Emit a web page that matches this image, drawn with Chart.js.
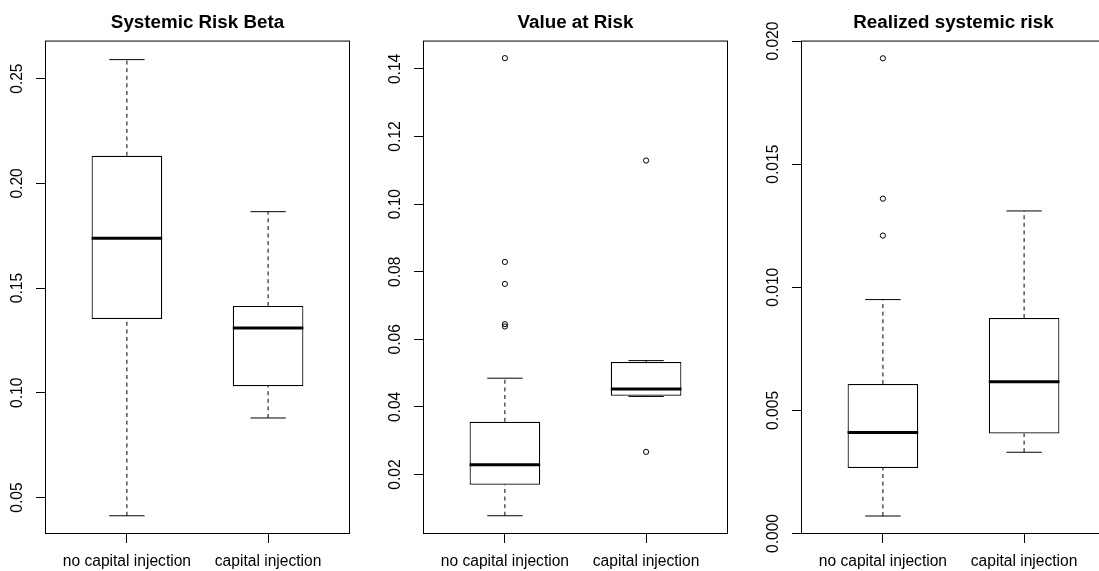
<!DOCTYPE html>
<html>
<head>
<meta charset="utf-8">
<script src="https://cdn.jsdelivr.net/npm/chart.js@4.4.1/dist/chart.umd.min.js"></script>
<style>
html, body { margin: 0; padding: 0; background: #fff; overflow: hidden; width: 1099px; height: 571px; }
.panel { position: absolute; top: 0; }
</style>
</head>
<body>
<div class="panel" style="left:0px"><canvas id="beta" width="366" height="571"></canvas></div>
<div class="panel" style="left:378px"><canvas id="var" width="366" height="571"></canvas></div>
<div class="panel" style="left:756px"><canvas id="srisk" width="366" height="571"></canvas></div>
<script>
// groups on the x axis
const groups = ['no capital injection', 'capital injection'];

// box summaries per group: [lower whisker, Q1, median, Q3, upper whisker]
const betaStats = [[0.0413, 0.1353, 0.1738, 0.2132, 0.2591], [0.0880, 0.1032, 0.1310, 0.1415, 0.1865]];
const betaOutliers = [[], []];
const betaTicks = ['0.05', '0.10', '0.15', '0.20', '0.25'];
const betaRange = [0.0326, 0.2682];

const varStats = [[0.0078, 0.0170, 0.0229, 0.0356, 0.0485], [0.0431, 0.0433, 0.0453, 0.0533, 0.0537]];
const varOutliers = [[0.1432, 0.0829, 0.0764, 0.0645, 0.0638], [0.1129, 0.0267]];
const varTicks = ['0.02', '0.04', '0.06', '0.08', '0.10', '0.12', '0.14'];
const varRange = [0.0024, 0.1484];

const sriskStats = [[0.00071, 0.00266, 0.00410, 0.00607, 0.00950], [0.00330, 0.00406, 0.00616, 0.00875, 0.01310]];
const sriskOutliers = [[0.0193, 0.0136, 0.0121], []];
const sriskTicks = ['0.000', '0.005', '0.010', '0.015', '0.020'];
const sriskRange = [-0.00002, 0.02002];

const xRange = [0.42, 2.58];

const FONT = "'Liberation Sans', Arial, Helvetica, sans-serif";
const BOX_HALF = 0.25;
const CAP_HALF = 0.125;

function boxData(stats) {
    return stats.map((s, i) => ({ x: i + 1, y: [s[1], s[3]] }));
}

function medianData(stats) {
    const d = [];
    stats.forEach((s, i) => {
        const c = i + 1;
        d.push({ x: c - BOX_HALF, y: s[2] }, { x: c + BOX_HALF, y: s[2] }, { x: c, y: null });
    });
    return d;
}

function whiskerData(stats) {
    const d = [];
    stats.forEach((s, i) => {
        const c = i + 1;
        d.push({ x: c, y: s[3] }, { x: c, y: s[4] }, { x: c, y: null });
        d.push({ x: c, y: s[0] }, { x: c, y: s[1] }, { x: c, y: null });
    });
    return d;
}

function capData(stats) {
    const d = [];
    stats.forEach((s, i) => {
        const c = i + 1;
        d.push({ x: c - CAP_HALF, y: s[4] }, { x: c + CAP_HALF, y: s[4] }, { x: c, y: null });
        d.push({ x: c - CAP_HALF, y: s[0] }, { x: c + CAP_HALF, y: s[0] }, { x: c, y: null });
    });
    return d;
}

function outlierData(outliers) {
    return outliers.flatMap((o, i) => o.map(v => ({ x: i + 1, y: v })));
}

// frame around the plot region and vertical y tick labels (R style)
const framePlugin = {
    id: 'frame',
    afterDraw(chart) {
        const { ctx, chartArea: a } = chart;
        ctx.save();
        ctx.strokeStyle = '#000';
        ctx.lineWidth = 1;
        ctx.strokeRect(a.left + 0.5, a.top + 0.5, a.right - a.left - 1, a.bottom - a.top - 1);
        const y = chart.scales.y;
        ctx.fillStyle = '#000';
        ctx.font = '15.6px ' + FONT;
        ctx.textAlign = 'center';
        ctx.textBaseline = 'middle';
        y.ticks.forEach(t => {
            const py = y.getPixelForValue(t.value);
            ctx.save();
            ctx.translate(a.left - 27, py);
            ctx.rotate(-Math.PI / 2);
            ctx.fillText(t.label, 0, 0);
            ctx.restore();
        });
        ctx.restore();
    }
};

function makePanel(id, title, stats, outliers, ticks, range) {
    new Chart(document.getElementById(id), {
        type: 'bar',
        data: {
            datasets: [
                {
                    type: 'line', order: 0, data: medianData(stats),
                    borderColor: '#000', borderWidth: 3, pointRadius: 0, spanGaps: false, borderCapStyle: 'butt'
                },
                {
                    type: 'line', order: 1, data: outlierData(outliers), showLine: false,
                    pointStyle: 'circle', pointRadius: 2.6, pointBorderWidth: 1,
                    pointBorderColor: '#000', pointBackgroundColor: 'rgba(0,0,0,0)'
                },
                {
                    type: 'bar', order: 2, data: boxData(stats),
                    backgroundColor: '#fff', borderColor: '#000', borderWidth: 1.2, borderSkipped: false,
                    barPercentage: 0.5, categoryPercentage: 1
                },
                {
                    type: 'line', order: 3, data: whiskerData(stats),
                    borderColor: '#000', borderWidth: 1, borderDash: [4, 3.6], pointRadius: 0, spanGaps: false
                },
                {
                    type: 'line', order: 4, data: capData(stats),
                    borderColor: '#000', borderWidth: 1, pointRadius: 0, spanGaps: false
                }
            ]
        },
        options: {
            responsive: false,
            devicePixelRatio: 1,
            animation: false,
            layout: { padding: { left: 0, right: 16, top: 0, bottom: 0 } },
            plugins: {
                legend: { display: false },
                tooltip: { enabled: false },
                title: {
                    display: true, text: title, color: '#000', fullSize: false,
                    font: { family: FONT, size: 18.8, weight: 'bold' },
                    padding: { top: 12, bottom: 6 }
                }
            },
            scales: {
                x: {
                    type: 'linear', min: xRange[0], max: xRange[1], offset: false,
                    afterBuildTicks: s => { s.ticks = groups.map((g, i) => ({ value: i + 1 })); },
                    afterFit: s => { s.height = 37; },
                    ticks: {
                        color: '#000', autoSkip: false, maxRotation: 0, padding: 9,
                        font: { family: FONT, size: 15.6 },
                        callback: v => groups[v - 1]
                    },
                    grid: { display: true, drawOnChartArea: false, drawTicks: true, tickLength: 9, tickColor: '#000', offset: false },
                    border: { display: false }
                },
                y: {
                    type: 'linear', min: range[0], max: range[1], beginAtZero: false,
                    afterBuildTicks: s => { s.ticks = ticks.map(t => ({ value: parseFloat(t) })); },
                    afterFit: s => { s.width = 45; },
                    ticks: { display: false, callback: (v, i) => ticks[i] },
                    grid: { display: true, drawOnChartArea: false, drawTicks: true, tickLength: 9, tickColor: '#000' },
                    border: { display: false }
                }
            }
        },
        plugins: [framePlugin]
    });
}

makePanel('beta', 'Systemic Risk Beta', betaStats, betaOutliers, betaTicks, betaRange);
makePanel('var', 'Value at Risk', varStats, varOutliers, varTicks, varRange);
makePanel('srisk', 'Realized systemic risk', sriskStats, sriskOutliers, sriskTicks, sriskRange);
</script>
</body>
</html>
